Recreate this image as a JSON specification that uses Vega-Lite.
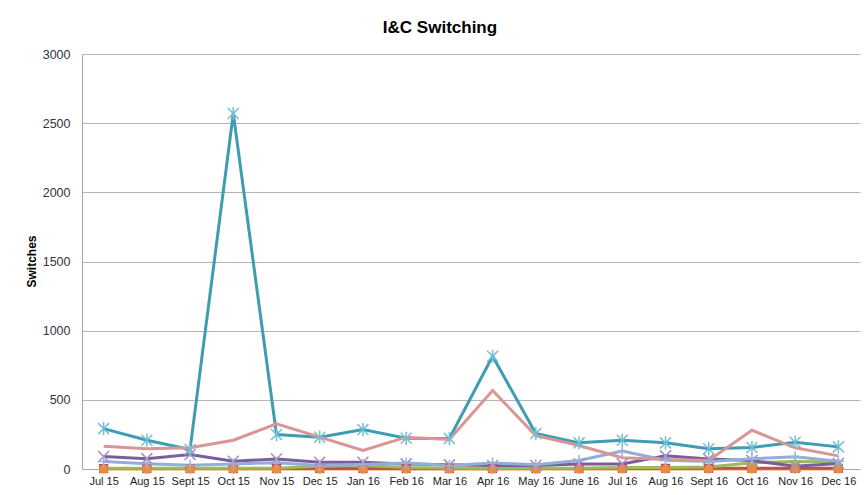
{
  "$schema": "https://vega.github.io/schema/vega-lite/v6.json",
  "autosize": {"type": "none"},
  "width": 778,
  "height": 415,
  "padding": {"left": 82, "top": 54, "right": 8, "bottom": 26},
  "background": "white",
  "config": {"view": {"stroke": null}, "font": "Liberation Sans"},
  "title": {"text": "I&C Switching", "fontSize": 17, "fontWeight": "bold", "color": "#000000", "anchor": "middle", "frame": "group", "dx": -31, "offset": 11, "font": "Liberation Sans"},
  "datasets": {
    "rows": [
      {"month": "Jul 15", "series": "S6", "value": 0}, {"month": "Aug 15", "series": "S6", "value": 0}, {"month": "Sept 15", "series": "S6", "value": 0}, {"month": "Oct 15", "series": "S6", "value": 0}, {"month": "Nov 15", "series": "S6", "value": 0}, {"month": "Dec 15", "series": "S6", "value": 0}, {"month": "Jan 16", "series": "S6", "value": 0}, {"month": "Feb 16", "series": "S6", "value": 0}, {"month": "Mar 16", "series": "S6", "value": 0}, {"month": "Apr 16", "series": "S6", "value": 0}, {"month": "May 16", "series": "S6", "value": 0}, {"month": "June 16", "series": "S6", "value": 0}, {"month": "Jul 16", "series": "S6", "value": 0}, {"month": "Aug 16", "series": "S6", "value": 0}, {"month": "Sept 16", "series": "S6", "value": 0}, {"month": "Oct 16", "series": "S6", "value": 0}, {"month": "Nov 16", "series": "S6", "value": 0}, {"month": "Dec 16", "series": "S6", "value": 0},
      {"month": "Jul 15", "series": "S2", "value": 3}, {"month": "Aug 15", "series": "S2", "value": 3}, {"month": "Sept 15", "series": "S2", "value": 3}, {"month": "Oct 15", "series": "S2", "value": 3}, {"month": "Nov 15", "series": "S2", "value": 3}, {"month": "Dec 15", "series": "S2", "value": 3}, {"month": "Jan 16", "series": "S2", "value": 3}, {"month": "Feb 16", "series": "S2", "value": 3}, {"month": "Mar 16", "series": "S2", "value": 3}, {"month": "Apr 16", "series": "S2", "value": 3}, {"month": "May 16", "series": "S2", "value": 3}, {"month": "June 16", "series": "S2", "value": 3}, {"month": "Jul 16", "series": "S2", "value": 5}, {"month": "Aug 16", "series": "S2", "value": 5}, {"month": "Sept 16", "series": "S2", "value": 5}, {"month": "Oct 16", "series": "S2", "value": 5}, {"month": "Nov 16", "series": "S2", "value": 5}, {"month": "Dec 16", "series": "S2", "value": 5},
      {"month": "Jul 15", "series": "S3", "value": 6}, {"month": "Aug 15", "series": "S3", "value": 6}, {"month": "Sept 15", "series": "S3", "value": 6}, {"month": "Oct 15", "series": "S3", "value": 6}, {"month": "Nov 15", "series": "S3", "value": 6}, {"month": "Dec 15", "series": "S3", "value": 20}, {"month": "Jan 16", "series": "S3", "value": 25}, {"month": "Feb 16", "series": "S3", "value": 10}, {"month": "Mar 16", "series": "S3", "value": 8}, {"month": "Apr 16", "series": "S3", "value": 6}, {"month": "May 16", "series": "S3", "value": 6}, {"month": "June 16", "series": "S3", "value": 6}, {"month": "Jul 16", "series": "S3", "value": 10}, {"month": "Aug 16", "series": "S3", "value": 10}, {"month": "Sept 16", "series": "S3", "value": 15}, {"month": "Oct 16", "series": "S3", "value": 45}, {"month": "Nov 16", "series": "S3", "value": 55}, {"month": "Dec 16", "series": "S3", "value": 50},
      {"month": "Jul 15", "series": "S4", "value": 90}, {"month": "Aug 15", "series": "S4", "value": 75}, {"month": "Sept 15", "series": "S4", "value": 105}, {"month": "Oct 15", "series": "S4", "value": 56}, {"month": "Nov 15", "series": "S4", "value": 72}, {"month": "Dec 15", "series": "S4", "value": 49}, {"month": "Jan 16", "series": "S4", "value": 49}, {"month": "Feb 16", "series": "S4", "value": 37}, {"month": "Mar 16", "series": "S4", "value": 30}, {"month": "Apr 16", "series": "S4", "value": 25}, {"month": "May 16", "series": "S4", "value": 25}, {"month": "June 16", "series": "S4", "value": 37}, {"month": "Jul 16", "series": "S4", "value": 37}, {"month": "Aug 16", "series": "S4", "value": 95}, {"month": "Sept 16", "series": "S4", "value": 72}, {"month": "Oct 16", "series": "S4", "value": 61}, {"month": "Nov 16", "series": "S4", "value": 20}, {"month": "Dec 16", "series": "S4", "value": 40},
      {"month": "Jul 15", "series": "S5", "value": 292}, {"month": "Aug 15", "series": "S5", "value": 208}, {"month": "Sept 15", "series": "S5", "value": 141}, {"month": "Oct 15", "series": "S5", "value": 2570}, {"month": "Nov 15", "series": "S5", "value": 249}, {"month": "Dec 15", "series": "S5", "value": 230}, {"month": "Jan 16", "series": "S5", "value": 285}, {"month": "Feb 16", "series": "S5", "value": 222}, {"month": "Mar 16", "series": "S5", "value": 220}, {"month": "Apr 16", "series": "S5", "value": 815}, {"month": "May 16", "series": "S5", "value": 256}, {"month": "June 16", "series": "S5", "value": 189}, {"month": "Jul 16", "series": "S5", "value": 208}, {"month": "Aug 16", "series": "S5", "value": 189}, {"month": "Sept 16", "series": "S5", "value": 146}, {"month": "Oct 16", "series": "S5", "value": 155}, {"month": "Nov 16", "series": "S5", "value": 194}, {"month": "Dec 16", "series": "S5", "value": 160},
      {"month": "Jul 15", "series": "S7", "value": 54}, {"month": "Aug 15", "series": "S7", "value": 38}, {"month": "Sept 15", "series": "S7", "value": 28}, {"month": "Oct 15", "series": "S7", "value": 37}, {"month": "Nov 15", "series": "S7", "value": 45}, {"month": "Dec 15", "series": "S7", "value": 25}, {"month": "Jan 16", "series": "S7", "value": 32}, {"month": "Feb 16", "series": "S7", "value": 44}, {"month": "Mar 16", "series": "S7", "value": 25}, {"month": "Apr 16", "series": "S7", "value": 44}, {"month": "May 16", "series": "S7", "value": 30}, {"month": "June 16", "series": "S7", "value": 61}, {"month": "Jul 16", "series": "S7", "value": 130}, {"month": "Aug 16", "series": "S7", "value": 64}, {"month": "Sept 16", "series": "S7", "value": 54}, {"month": "Oct 16", "series": "S7", "value": 74}, {"month": "Nov 16", "series": "S7", "value": 88}, {"month": "Dec 16", "series": "S7", "value": 56},
      {"month": "Jul 15", "series": "S8", "value": 165}, {"month": "Aug 15", "series": "S8", "value": 146}, {"month": "Sept 15", "series": "S8", "value": 153}, {"month": "Oct 15", "series": "S8", "value": 208}, {"month": "Nov 15", "series": "S8", "value": 326}, {"month": "Dec 15", "series": "S8", "value": 230}, {"month": "Jan 16", "series": "S8", "value": 134}, {"month": "Feb 16", "series": "S8", "value": 230}, {"month": "Mar 16", "series": "S8", "value": 213}, {"month": "Apr 16", "series": "S8", "value": 567}, {"month": "May 16", "series": "S8", "value": 242}, {"month": "June 16", "series": "S8", "value": 170}, {"month": "Jul 16", "series": "S8", "value": 81}, {"month": "Aug 16", "series": "S8", "value": 69}, {"month": "Sept 16", "series": "S8", "value": 61}, {"month": "Oct 16", "series": "S8", "value": 280}, {"month": "Nov 16", "series": "S8", "value": 153}, {"month": "Dec 16", "series": "S8", "value": 95}
    ]
  },
  "data": {"name": "rows"},
  "encoding": {
    "x": {
      "field": "month",
      "type": "ordinal",
      "sort": ["Jul 15", "Aug 15", "Sept 15", "Oct 15", "Nov 15", "Dec 15", "Jan 16", "Feb 16", "Mar 16", "Apr 16", "May 16", "June 16", "Jul 16", "Aug 16", "Sept 16", "Oct 16", "Nov 16", "Dec 16"],
      "scale": {"type": "point", "padding": 0.5},
      "axis": {"title": null, "labelAngle": 0, "ticks": false, "grid": false, "domainColor": "#A6A6A6", "domainWidth": 1, "labelFontSize": 11, "labelPadding": 6, "labelColor": "#222222", "labelFont": "Liberation Sans"}
    },
    "y": {
      "field": "value",
      "type": "quantitative",
      "scale": {"domain": [0, 3000], "nice": false},
      "axis": {"title": "Switches", "values": [0, 500, 1000, 1500, 2000, 2500, 3000], "format": "d", "grid": true, "gridColor": "#B4B4B4", "gridWidth": 1, "domainColor": "#A6A6A6", "domainWidth": 1, "ticks": false, "labelPadding": 12, "labelFontSize": 12.5, "labelColor": "#333344", "labelFont": "Liberation Sans", "titleFont": "Liberation Sans", "titleFontSize": 12, "titleFontWeight": "bold", "titleColor": "#000000", "titleX": -51, "titleY": 207, "titleAngle": -90, "titleBaseline": "middle", "titleAlign": "center"}
    }
  },
  "layer": [
    {
      "mark": {"type": "line", "strokeWidth": 3},
      "encoding": {
        "color": {"field": "series", "type": "nominal", "legend": null, "scale": {"domain": ["S2", "S3", "S4", "S5", "S6", "S7", "S8"], "range": ["#C0504D", "#9BBB59", "#7A5E9C", "#3E9CB3", "#F79646", "#93ACDA", "#D99694"]}}
      }
    },
    {
      "transform": [{"filter": {"field": "series", "oneOf": ["S2", "S3", "S6"]}}],
      "mark": {"type": "point", "filled": true, "opacity": 1, "size": 85},
      "encoding": {
        "order": {"field": "series", "type": "nominal", "sort": "ascending"},
        "shape": {"field": "series", "type": "nominal", "legend": null, "scale": {"domain": ["S2", "S3", "S6"], "range": ["square", "triangle-up", "circle"]}},
        "color": {"field": "series", "type": "nominal", "legend": null, "scale": {"domain": ["S2", "S3", "S6"], "range": ["#C0504D", "#9BBB59", "#EB8B3C"]}}
      }
    },
    {
      "transform": [{"filter": {"field": "series", "oneOf": ["S4", "S5", "S7"]}}],
      "mark": {"type": "point", "filled": false, "opacity": 1, "size": 121, "strokeWidth": 1.5},
      "encoding": {
        "shape": {"field": "series", "type": "nominal", "legend": null, "scale": {"domain": ["S4", "S5", "S7"], "range": ["M-1,-1L1,1M-1,1L1,-1", "M-1,-1L1,1M-1,1L1,-1M0,-1.2L0,1.2", "M-1,0L1,0M0,-1L0,1"]}},
        "color": {"field": "series", "type": "nominal", "legend": null, "scale": {"domain": ["S4", "S5", "S7"], "range": ["#A08DC3", "#72BFD4", "#9AB1DE"]}}
      }
    }
  ],
  "resolve": {"scale": {"color": "independent", "shape": "independent"}}
}
